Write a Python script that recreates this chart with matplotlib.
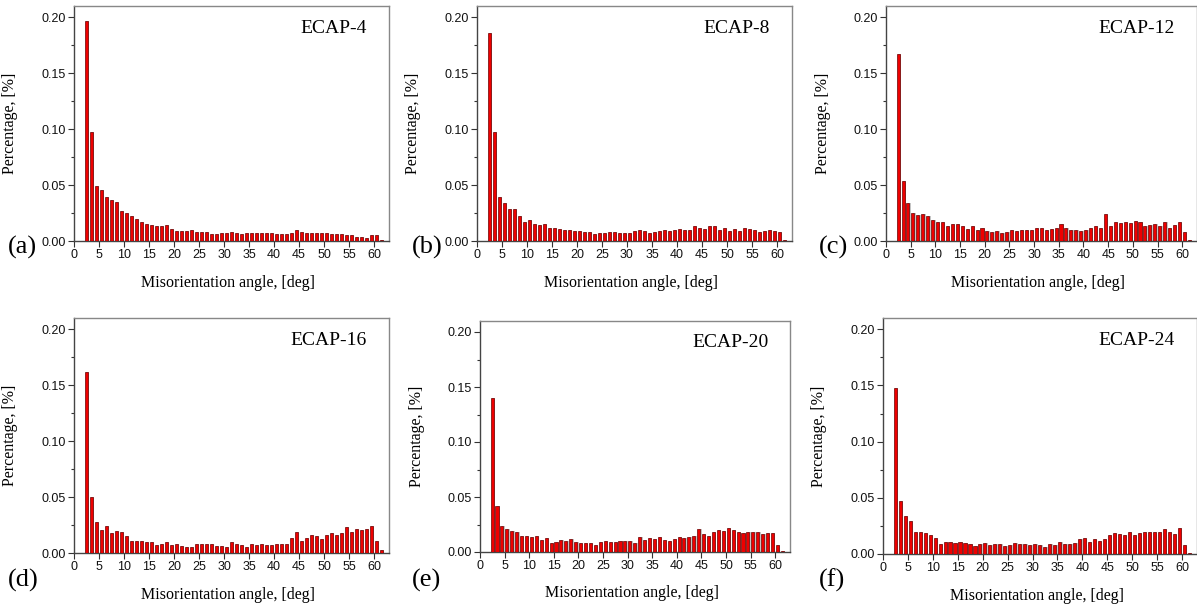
import matplotlib
matplotlib.use('Agg')
import matplotlib.pyplot as plt
from matplotlib.ticker import MultipleLocator
import numpy as np

# bin centres, 1 deg bins starting at 2 deg
angles = np.arange(2.5, 62.5, 1.0)

ecap4 = [0.197, 0.097, 0.049, 0.046, 0.039, 0.037, 0.035, 0.027, 0.025, 0.022,
         0.020, 0.017, 0.015, 0.014, 0.013, 0.013, 0.014, 0.011, 0.009, 0.009,
         0.009, 0.010, 0.008, 0.008, 0.008, 0.006, 0.006, 0.007, 0.007, 0.008,
         0.007, 0.006, 0.007, 0.007, 0.007, 0.007, 0.007, 0.007, 0.006, 0.006,
         0.006, 0.007, 0.010, 0.008, 0.007, 0.007, 0.007, 0.007, 0.007, 0.006,
         0.006, 0.006, 0.005, 0.005, 0.004, 0.004, 0.003, 0.005, 0.005, 0.001]

ecap8 = [0.186, 0.097, 0.039, 0.034, 0.029, 0.029, 0.022, 0.017, 0.019, 0.015,
         0.014, 0.015, 0.012, 0.012, 0.011, 0.010, 0.010, 0.009, 0.009, 0.008,
         0.008, 0.006, 0.007, 0.007, 0.008, 0.008, 0.007, 0.007, 0.007, 0.009,
         0.010, 0.009, 0.007, 0.008, 0.009, 0.010, 0.009, 0.010, 0.011, 0.010,
         0.010, 0.013, 0.012, 0.011, 0.013, 0.013, 0.010, 0.012, 0.009, 0.011,
         0.009, 0.012, 0.011, 0.010, 0.008, 0.009, 0.010, 0.009, 0.008, 0.001]

ecap12 = [0.167, 0.054, 0.034, 0.025, 0.023, 0.024, 0.022, 0.019, 0.017, 0.017,
          0.013, 0.015, 0.015, 0.013, 0.011, 0.013, 0.010, 0.012, 0.009, 0.008,
          0.009, 0.007, 0.008, 0.010, 0.009, 0.010, 0.010, 0.010, 0.012, 0.012,
          0.010, 0.011, 0.012, 0.015, 0.012, 0.010, 0.010, 0.009, 0.010, 0.012,
          0.013, 0.012, 0.024, 0.013, 0.017, 0.016, 0.017, 0.016, 0.018, 0.017,
          0.013, 0.014, 0.015, 0.013, 0.017, 0.012, 0.014, 0.017, 0.008, 0.001]

ecap16 = [0.162, 0.050, 0.028, 0.021, 0.024, 0.018, 0.020, 0.019, 0.015, 0.011,
          0.011, 0.011, 0.010, 0.010, 0.0075, 0.008, 0.0095, 0.0075, 0.008, 0.0065,
          0.0055, 0.0055, 0.008, 0.008, 0.008, 0.008, 0.0065, 0.0065, 0.0055, 0.010,
          0.008, 0.0075, 0.0055, 0.008, 0.0075, 0.008, 0.0075, 0.0075, 0.008, 0.008,
          0.008, 0.0135, 0.0185, 0.011, 0.0135, 0.0165, 0.015, 0.0125, 0.0165, 0.0175,
          0.0165, 0.0175, 0.023, 0.0185, 0.0215, 0.021, 0.0215, 0.024, 0.011, 0.0025]

ecap20 = [0.140, 0.042, 0.0235, 0.0205, 0.019, 0.018, 0.015, 0.015, 0.014, 0.015,
          0.011, 0.013, 0.008, 0.009, 0.011, 0.010, 0.012, 0.009, 0.008, 0.008,
          0.008, 0.006, 0.009, 0.010, 0.009, 0.009, 0.010, 0.010, 0.010, 0.008,
          0.014, 0.011, 0.013, 0.012, 0.014, 0.011, 0.010, 0.012, 0.014, 0.013,
          0.014, 0.015, 0.021, 0.016, 0.015, 0.018, 0.020, 0.019, 0.022, 0.020,
          0.018, 0.017, 0.018, 0.018, 0.018, 0.016, 0.017, 0.017, 0.006, 0.001]

ecap24 = [0.148, 0.047, 0.0335, 0.0295, 0.020, 0.020, 0.019, 0.017, 0.014, 0.009,
          0.011, 0.011, 0.010, 0.011, 0.010, 0.009, 0.0075, 0.009, 0.010, 0.008,
          0.009, 0.009, 0.0075, 0.008, 0.010, 0.009, 0.009, 0.008, 0.009, 0.008,
          0.006, 0.009, 0.008, 0.011, 0.009, 0.009, 0.010, 0.013, 0.014, 0.011,
          0.013, 0.012, 0.013, 0.017, 0.019, 0.018, 0.017, 0.020, 0.017, 0.019,
          0.020, 0.020, 0.020, 0.020, 0.022, 0.020, 0.018, 0.023, 0.008, 0.001]

names = ['ECAP-4', 'ECAP-8', 'ECAP-12', 'ECAP-16', 'ECAP-20', 'ECAP-24']
letters = ['(a)', '(b)', '(c)', '(d)', '(e)', '(f)']
series = [ecap4, ecap8, ecap12, ecap16, ecap20, ecap24]

W, H = 1197, 605
# axes boxes in pixels: left, top, right, bottom
boxes = [(74, 6, 389, 241), (477, 6, 792, 241), (886, 6, 1197, 241),
         (74, 318, 389, 553), (480, 321, 790, 552), (883, 318, 1197, 554)]
letter_pos = [(8, 247), (412, 247), (819, 247), (8, 580), (412, 580), (819, 580)]

serif = 'Liberation Serif'
sans = 'Liberation Sans'

fig = plt.figure(figsize=(W / 100, H / 100), dpi=100)

for k in range(6):
    l, t, r, b = boxes[k]
    ax = fig.add_axes([l / W, 1 - b / H, (r - l) / W, (b - t) / H])
    vals = np.array(series[k])
    # grey side shading, then the red bars
    ax.bar(angles + 0.22, vals, width=0.62, color='#c4c4c4', linewidth=0, zorder=2)
    ax.bar(angles - 0.05, vals, width=0.62, color='#ee0000', edgecolor='#6a0000',
           linewidth=0.5, zorder=3)
    ax.set_xlim(0, 63)
    ax.set_ylim(0, 0.21)
    ax.xaxis.set_major_locator(MultipleLocator(5))
    ax.yaxis.set_minor_locator(MultipleLocator(0.025))
    ax.tick_params(direction='out', length=4, width=0.8, colors='#333333',
                   labelsize=9, pad=2)
    ax.tick_params(which='minor', direction='out', length=2.5, width=0.8, colors='#333333')
    ax.set_yticks([0, 0.05, 0.10, 0.15, 0.20])
    ax.set_yticklabels(['0.00', '0.05', '0.10', '0.15', '0.20'])
    for lab in ax.get_xticklabels() + ax.get_yticklabels():
        lab.set_fontfamily(sans)
        lab.set_color('#111111')
    for side in ['left', 'bottom']:
        ax.spines[side].set_color('#444444')
        ax.spines[side].set_linewidth(1.0)
    for side in ['top', 'right']:
        ax.spines[side].set_color('#888888')
        ax.spines[side].set_linewidth(1.0)
    ax.set_xlabel('Misorientation angle, [deg]', fontfamily=serif, fontsize=11.5)
    ax.set_ylabel('Percentage, [%]', fontfamily=serif, fontsize=11.5)
    ax.xaxis.set_label_coords(0.49, -0.145)
    ax.yaxis.set_label_coords(-0.178, 0.5)
    ax.text(0.93, 0.905, names[k], transform=ax.transAxes, ha='right', va='center',
            fontfamily=serif, fontsize=14)
    lx, ly = letter_pos[k]
    fig.text(lx / W, 1 - ly / H, letters[k], ha='left', va='center',
             fontfamily=serif, fontsize=19)

fig.savefig('out.png', dpi=100)
